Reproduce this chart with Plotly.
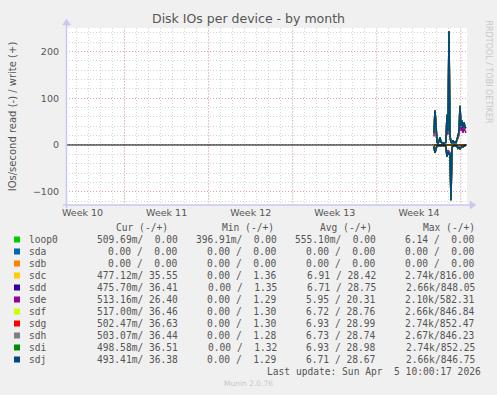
import pandas as pd
import plotly.graph_objects as go

# ---------------- data ----------------
times = pd.date_range("2026-04-02 18:00", periods=33, freq="2h")

devices = ["loop0", "sda", "sdb", "sdc", "sdd", "sde", "sdf", "sdg", "sdh", "sdi", "sdj"]
colors = ["#00CC00", "#0066B3", "#FF8000", "#FFCC00", "#330099", "#990099",
          "#CCFF00", "#FF0000", "#808080", "#008F00", "#00487D"]

# writes (+)
loop0_w = [0, 0, 0, 0, 0, 0, 0, 0, 0, 0, 0, 0, 0, 0, 0, 0, 0, 0, 0, 0, 0, 0, 0, 0, 0, 0, 0, 0, 0, 0, 0, 0, 0]
sda_w = [0, 0, 0, 0, 0, 0, 0, 0, 0, 0, 0, 0, 0, 0, 0, 0, 0, 0, 0, 0, 0, 0, 0, 0, 0, 0, 0, 0, 0, 0, 0, 0, 0]
sdb_w = [0, 0, 0, 0, 0, 0, 0, 0, 0, 0, 0, 0, 0, 0, 0, 0, 0, 0, 0, 0, 0, 0, 0, 0, 0, 0, 0, 0, 0, 0, 0, 0, 0]
sdc_w = [24, 72, 44, 6, 4, 8, 15, 6, 4, 5, 4, 5, 6, 63, 29, 240, 19, 6, 5, 10, 5, 6, 5, 12, 17, 27, 82, 39, 51, 35, 47, 37, 35]
sdd_w = [25, 74, 45, 6, 4, 8, 16, 6, 4, 5, 4, 5, 6, 65, 30, 238, 20, 6, 5, 10, 5, 6, 5, 12, 18, 28, 84, 41, 53, 36, 49, 38, 36]
sde_w = [18, 55, 34, 5, 3, 6, 12, 5, 3, 4, 3, 4, 5, 48, 22, 182, 15, 5, 4, 8, 4, 5, 4, 9, 14, 21, 62, 30, 39, 26, 36, 28, 26]
sdf_w = [25, 73, 46, 6, 4, 8, 16, 6, 4, 5, 4, 5, 6, 64, 30, 242, 20, 6, 5, 10, 5, 6, 5, 12, 18, 28, 83, 40, 52, 36, 48, 38, 36]
sdg_w = [26, 74, 45, 6, 4, 8, 16, 6, 4, 5, 4, 5, 6, 65, 31, 244, 20, 6, 5, 10, 5, 6, 5, 12, 18, 29, 84, 41, 52, 35, 49, 38, 37]
sdh_w = [25, 73, 45, 6, 4, 8, 16, 6, 4, 5, 4, 5, 6, 64, 30, 241, 20, 6, 5, 10, 5, 6, 5, 12, 18, 28, 83, 40, 52, 35, 48, 38, 36]
sdi_w = [26, 74, 46, 6, 4, 8, 16, 6, 4, 5, 4, 5, 6, 65, 31, 244, 20, 6, 5, 10, 5, 6, 5, 12, 18, 29, 84, 41, 53, 36, 49, 38, 37]
sdj_w = [25, 73, 45, 6, 4, 8, 16, 6, 4, 5, 4, 5, 6, 64, 30, 243, 20, 6, 5, 10, 5, 6, 5, 12, 18, 28, 83, 40, 52, 35, 48, 38, 36]

# reads (-)
loop0_r = [0.5, 0.6, 0.5, 0.5, 0.5, 0.5, 0.6, 0.5, 0.5, 0.5, 0.5, 0.5, 0.6, 0.6, 0.5, 0.6, 0.6, 0.6, 0.5, 0.5, 0.5, 0.5, 0.5, 0.5, 0.6, 0.5, 0.6, 0.5, 0.5, 0.5, 0.5, 0.5, 0.5]
sda_r = [0, 0, 0, 0, 0, 0, 0, 0, 0, 0, 0, 0, 0, 0, 0, 0, 0, 0, 0, 0, 0, 0, 0, 0, 0, 0, 0, 0, 0, 0, 0, 0, 0]
sdb_r = [0, 0, 0, 0, 0, 0, 0, 0, 0, 0, 0, 0, 0, 0, 0, 0, 0, 0, 0, 0, 0, 0, 0, 0, 0, 0, 0, 0, 0, 0, 0, 0, 0]
sdc_r = [3, 18, 8, 2, 1, 1, 2, 1, 1, 1, 1, 1, 5, 26, 15, 20, 21, 119, 5, 2, 1, 1, 2, 3, 7, 5, 8, 6, 3, 4, 2, 1, 0.5]
sdd_r = [3, 16, 8, 2, 1, 1, 2, 1, 1, 1, 1, 1, 5, 24, 14, 19, 20, 116, 5, 2, 1, 1, 2, 3, 7, 5, 8, 6, 3, 4, 2, 1, 0.5]
sde_r = [2, 13, 6, 2, 1, 1, 2, 1, 1, 1, 1, 1, 4, 19, 11, 15, 16, 92, 4, 2, 1, 1, 2, 2, 5, 4, 6, 5, 2, 3, 2, 1, 0.5]
sdf_r = [3, 17, 8, 2, 1, 1, 2, 1, 1, 1, 1, 1, 5, 25, 15, 20, 20, 117, 5, 2, 1, 1, 2, 3, 7, 5, 8, 6, 3, 4, 2, 1, 0.5]
sdg_r = [3, 17, 8, 2, 1, 1, 2, 1, 1, 1, 1, 1, 5, 25, 15, 20, 20, 119, 5, 2, 1, 1, 2, 3, 7, 5, 8, 6, 3, 4, 2, 1, 0.5]
sdh_r = [3, 17, 8, 2, 1, 1, 2, 1, 1, 1, 1, 1, 5, 25, 15, 20, 20, 117, 5, 2, 1, 1, 2, 3, 7, 5, 8, 6, 3, 4, 2, 1, 0.5]
sdi_r = [3, 17, 8, 2, 1, 1, 2, 1, 1, 1, 1, 1, 5, 25, 15, 20, 20, 119, 5, 2, 1, 1, 2, 3, 7, 5, 8, 6, 3, 4, 2, 1, 0.5]
sdj_r = [3, 17, 8, 2, 1, 1, 2, 1, 1, 1, 1, 1, 5, 25, 15, 20, 20, 118, 5, 2, 1, 1, 2, 3, 7, 5, 8, 6, 3, 4, 2, 1, 0.5]

writes = [loop0_w, sda_w, sdb_w, sdc_w, sdd_w, sde_w, sdf_w, sdg_w, sdh_w, sdi_w, sdj_w]
reads = [loop0_r, sda_r, sdb_r, sdc_r, sdd_r, sde_r, sdf_r, sdg_r, sdh_r, sdi_r, sdj_r]

week_bounds = ["2026-03-08", "2026-03-15", "2026-03-22", "2026-03-29", "2026-04-05"]
week_label_pos = ["2026-03-04 12:00", "2026-03-11 12:00", "2026-03-18 12:00",
                  "2026-03-25 12:00", "2026-04-01 12:00"]
week_labels = ["Week 10", "Week 11", "Week 12", "Week 13", "Week 14"]
y_ticks = [-100, 0, 100, 200]

cur_col = ["509.69m/  0.00", "0.00 /  0.00", "0.00 /  0.00", "477.12m/ 35.55",
           "475.70m/ 36.41", "513.16m/ 26.40", "517.00m/ 36.46", "502.47m/ 36.63",
           "503.07m/ 36.44", "498.58m/ 36.51", "493.41m/ 36.38"]
min_col = ["396.91m/  0.00", "0.00 /  0.00", "0.00 /  0.00", "0.00 /  1.36",
           "0.00 /  1.35", "0.00 /  1.29", "0.00 /  1.30", "0.00 /  1.30",
           "0.00 /  1.28", "0.00 /  1.32", "0.00 /  1.29"]
avg_col = ["555.10m/  0.00", "0.00 /  0.00", "0.00 /  0.00", "6.91 / 28.42",
           "6.71 / 28.75", "5.95 / 20.31", "6.72 / 28.76", "6.93 / 28.99",
           "6.73 / 28.74", "6.93 / 28.98", "6.71 / 28.67"]
max_col = ["6.14 /  0.00", "0.00 /  0.00", "0.00 /  0.00", "2.74k/816.00",
           "2.66k/848.05", "2.10k/582.31", "2.66k/846.84", "2.74k/852.47",
           "2.67k/846.23", "2.74k/852.25", "2.66k/846.75"]
headers = ["Cur (-/+)", "Min (-/+)", "Avg (-/+)", "Max (-/+)"]

# ---------------- layout geometry ----------------
W, H = 497, 395
L, R, T, B = 66, 30, 28, 190
PW, PH = W - L - R, H - T - B


def px(x):
    return (x - L) / PW


def py(y):
    return (H - B - y) / PH


MONO = "DejaVu Sans Mono"
SANS = "DejaVu Sans"
TXT = "#555555"
RED_GRID = "rgba(225,120,120,0.55)"
GREY_GRID = "rgba(0,0,0,0.17)"
DOTS = "1px,2px"

fig = go.Figure()
for name, col, w, r in zip(devices, colors, writes, reads):
    fig.add_trace(go.Scatter(x=times, y=[-v for v in r], mode="lines",
                             line=dict(color=col, width=1.5), showlegend=False,
                             hoverinfo="skip"))
    fig.add_trace(go.Scatter(x=times, y=w, mode="lines",
                             line=dict(color=col, width=1.5), showlegend=False,
                             name=name))

shapes = []
# red week grid lines
for wb in week_bounds:
    shapes.append(dict(type="line", xref="x", yref="paper", x0=wb, x1=wb, y0=0, y1=1,
                       line=dict(color=RED_GRID, width=1, dash=DOTS),
                       layer="below"))
# zero rule (drawn above the data like rrdtool's HRULE)
shapes.append(dict(type="line", xref="paper", yref="y", x0=0, x1=1, y0=0, y1=0,
                   line=dict(color="#000000", width=1), layer="above"))
# axis lines with arrows
AX = "#C8C8F0"
shapes.append(dict(type="line", xref="paper", yref="paper", x0=px(63), x1=px(471),
                   y0=py(205), y1=py(205), line=dict(color=AX, width=1.5)))
shapes.append(dict(type="line", xref="paper", yref="paper", x0=px(66.5), x1=px(66.5),
                   y0=py(208), y1=py(24), line=dict(color=AX, width=1.5)))
shapes.append(dict(type="path", xref="paper", yref="paper",
                   path=f"M {px(470)},{py(201)} L {px(476)},{py(205)} L {px(470)},{py(209)} Z",
                   fillcolor=AX, line=dict(color=AX, width=0.5)))
shapes.append(dict(type="path", xref="paper", yref="paper",
                   path=f"M {px(62.5)},{py(25)} L {px(66.5)},{py(19)} L {px(70.5)},{py(25)} Z",
                   fillcolor=AX, line=dict(color=AX, width=0.5)))
# legend squares
for i, col in enumerate(colors):
    yc = 239.5 + 12 * i
    shapes.append(dict(type="rect", xref="paper", yref="paper",
                       x0=px(14), x1=px(20), y0=py(yc + 3), y1=py(yc - 3),
                       fillcolor=col, line=dict(width=0)))

ann = []
ann.append(dict(text="Disk IOs per device - by month", x=px(248), y=py(19),
                xref="paper", yref="paper", showarrow=False, xanchor="center",
                yanchor="middle", font=dict(family=SANS, size=12.5, color=TXT)))
ann.append(dict(text="RRDTOOL / TOBI OETIKER", x=px(488), y=py(18), xref="paper",
                yref="paper", showarrow=False, textangle=90, xanchor="center",
                yanchor="top", font=dict(family=SANS, size=8, color="#C8C8C8")))
hdr_x = [169.5, 275.5, 373.5, 476.5]
for hx, ht in zip(hdr_x, headers):
    ann.append(dict(text=ht, x=px(hx), y=py(227.5), xref="paper", yref="paper",
                    showarrow=False, xanchor="right", yanchor="middle",
                    font=dict(family=MONO, size=9.6, color=TXT)))
col_x = [179.5, 278.5, 377.5, 477]
for i, name in enumerate(devices):
    yc = 239.5 + 12 * i
    ann.append(dict(text=name, x=px(26.5), y=py(yc), xref="paper", yref="paper",
                    showarrow=False, xanchor="left", yanchor="middle",
                    font=dict(family=MONO, size=9.6, color=TXT)))
    for cx, colvals in zip(col_x, [cur_col, min_col, avg_col, max_col]):
        ann.append(dict(text=colvals[i].replace(" ", "&nbsp;"), x=px(cx), y=py(yc),
                        xref="paper", yref="paper", showarrow=False,
                        xanchor="right", yanchor="middle",
                        font=dict(family=MONO, size=9.6, color=TXT)))
ann.append(dict(text="Last update: Sun Apr  5 10:00:17 2026".replace(" ", "&nbsp;"),
                x=px(483), y=py(371.5), xref="paper", yref="paper", showarrow=False,
                xanchor="right", yanchor="middle",
                font=dict(family=MONO, size=9.6, color=TXT)))
ann.append(dict(text="Munin 2.0.76", x=px(248), y=py(383.5), xref="paper",
                yref="paper", showarrow=False, xanchor="center", yanchor="middle",
                font=dict(family=SANS, size=7.5, color="#C8C8C8")))

fig.update_layout(
    width=W, height=H, margin=dict(l=L, r=R, t=T, b=B, pad=0),
    paper_bgcolor="#F0F0F0", plot_bgcolor="#FFFFFF",
    shapes=shapes, annotations=ann, showlegend=False,
    xaxis=dict(type="date", range=["2026-03-03 03:00", "2026-04-05 12:00"],
               tickmode="array", tickvals=week_label_pos, ticktext=week_labels,
               showgrid=False, zeroline=False, showline=False, ticks="",
               ticklen=0, tickfont=dict(family=SANS, size=9.5, color=TXT),
               minor=dict(tickmode="linear", tick0="2026-03-01", dtick=86400000,
                          showgrid=True, gridcolor=GREY_GRID,
                          griddash=DOTS, gridwidth=1)),
    yaxis=dict(range=[-128.5, 250.5], tickmode="array", tickvals=y_ticks,
               showgrid=True, gridcolor=RED_GRID, griddash=DOTS,
               zeroline=False, showline=False, ticks="", ticklabelstandoff=6,
               tickfont=dict(family=SANS, size=9.5, color=TXT),
               title=dict(text="IOs/second read (-) / write (+)", standoff=14,
                          font=dict(family=SANS, size=10, color=TXT)),
               minor=dict(tickmode="linear", tick0=0, dtick=20, showgrid=True,
                          gridcolor=GREY_GRID, griddash=DOTS, gridwidth=1)),
)

fig.write_html("out.html")
